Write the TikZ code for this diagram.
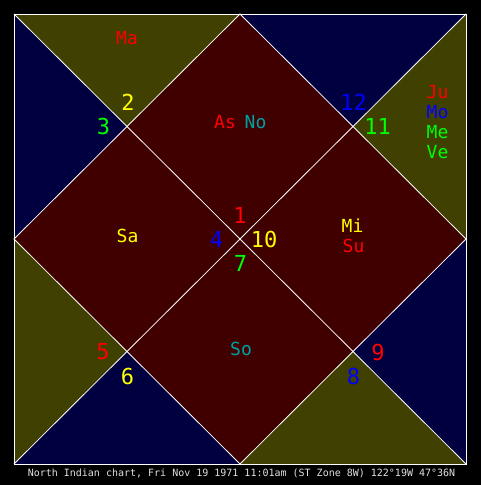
\documentclass[tikz,border=0pt]{standalone}
\usepackage{fontspec}
\setmonofont{DejaVu Sans Mono}
\definecolor{olivebg}{RGB}{64,64,0}
\definecolor{navybg}{RGB}{0,0,64}
\definecolor{redbg}{RGB}{64,0,0}
\definecolor{tred}{RGB}{255,0,0}
\definecolor{tyellow}{RGB}{255,255,0}
\definecolor{tgreen}{RGB}{0,255,0}
\definecolor{tblue}{RGB}{0,0,255}
\definecolor{tteal}{RGB}{0,160,160}
\definecolor{tgray}{RGB}{225,225,225}
\tikzset{
  planet/.style={inner sep=0pt, font=\ttfamily\fontsize{18}{18}\selectfont},
  housenum/.style={inner sep=0pt, font=\ttfamily\fontsize{22}{22}\selectfont},
  caption/.style={inner sep=0pt, text=tgray, font=\ttfamily\fontsize{10}{10}\selectfont},
  chartline/.style={draw=white, line width=0.8pt}
}
\begin{document}
\begin{tikzpicture}[x=1pt,y=-1pt]
\fill[black] (0,0) rectangle (481,485);
\useasboundingbox (0,0) rectangle (481,485);
% corners and key points
\coordinate (A) at (14,14);
\coordinate (B) at (466,14);
\coordinate (C) at (466,464);
\coordinate (D) at (14,464);
\coordinate (T) at (240,14);
\coordinate (R) at (466,239);
\coordinate (Bm) at (240,464);
\coordinate (L) at (14,239);
\coordinate (O) at (240,239);
\coordinate (P1) at (127,126.5);
\coordinate (P2) at (353,126.5);
\coordinate (P3) at (127,351.5);
\coordinate (P4) at (353,351.5);
% fills
\fill[redbg] (T) -- (R) -- (Bm) -- (L) -- cycle;
\fill[olivebg] (A) -- (T) -- (P1) -- cycle;
\fill[navybg] (A) -- (P1) -- (L) -- cycle;
\fill[navybg] (T) -- (B) -- (P2) -- cycle;
\fill[olivebg] (B) -- (R) -- (P2) -- cycle;
\fill[olivebg] (L) -- (P3) -- (D) -- cycle;
\fill[navybg] (D) -- (P3) -- (Bm) -- cycle;
\fill[olivebg] (Bm) -- (P4) -- (C) -- cycle;
\fill[navybg] (C) -- (P4) -- (R) -- cycle;
% lines
\draw[chartline] (A) rectangle (C);
\draw[chartline] (A) -- (C);
\draw[chartline] (B) -- (D);
\draw[chartline] (T) -- (R) -- (Bm) -- (L) -- cycle;
% house numbers
\node[housenum, text=tred] (h1) at (240,215) {1};
\node[housenum, text=tyellow] (h2) at (128,102.5) {2};
\node[housenum, text=tgreen] (h3) at (103.5,126) {3};
\node[housenum, text=tblue] (h4) at (216.5,239) {4};
\node[housenum, text=tred] (h5) at (103,351.5) {5};
\node[housenum, text=tyellow] (h6) at (127.5,376.5) {6};
\node[housenum, text=tgreen] (h7) at (240.5,263) {7};
\node[housenum, text=tblue] (h8) at (353.5,376.5) {8};
\node[housenum, text=tred] (h9) at (378,352) {9};
\node[housenum, text=tyellow] (h10) at (264,239) {10};
\node[housenum, text=tgreen] (h11) at (377.5,126.5) {11};
\node[housenum, text=tblue] (h12) at (353.5,102.5) {12};
% planets
\node[planet, text=tred] (ma) at (127,38.5) {Ma};
\node[planet, text=tred] (ju) at (437.5,92.5) {Ju};
\node[planet, text=tblue] (mo) at (437.5,112.5) {Mo};
\node[planet, text=tgreen] (me) at (437.5,132.5) {Me};
\node[planet, text=tgreen] (ve) at (437.5,152.5) {Ve};
\node[planet, text=tred] (as) at (225,122.5) {As};
\node[planet, text=tteal] (no) at (255.5,122.5) {No};
\node[planet, text=tyellow] (sa) at (127.5,235.5) {Sa};
\node[planet, text=tyellow] (mi) at (352.5,225.5) {Mi};
\node[planet, text=tred] (su) at (353.5,245.5) {Su};
\node[planet, text=tteal] (so) at (241,349) {So};
% caption
\node[caption] (cap) at (241.5,473) {North Indian chart, Fri Nov 19 1971 11:01am (ST Zone 8W) 122°19W 47°36N};
\end{tikzpicture}
\end{document}
